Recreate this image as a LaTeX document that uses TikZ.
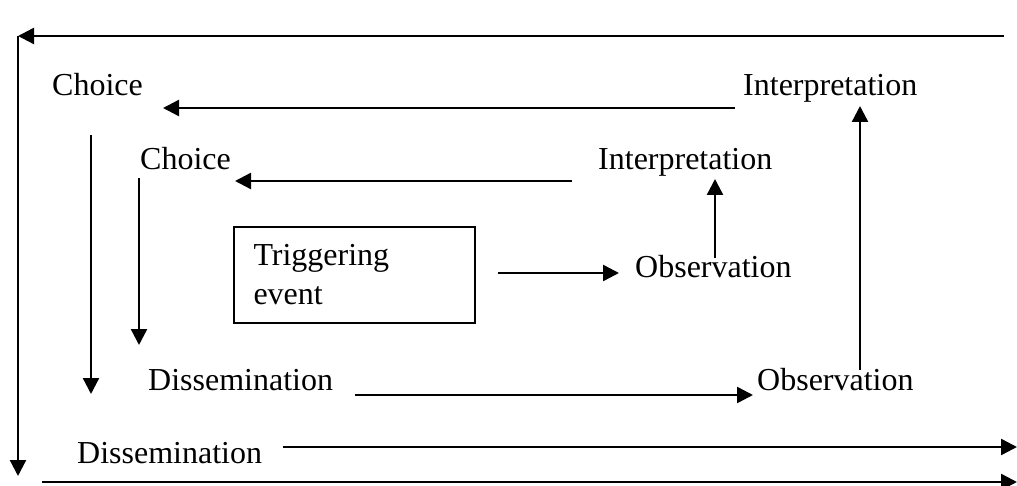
\documentclass[tikz,border=0pt]{standalone}
\usepackage{fontspec}
\setmainfont{Liberation Serif}
\usetikzlibrary{arrows.meta}
\begin{document}
\begin{tikzpicture}[x=1pt,y=-1pt,
  lbl/.style={anchor=base west,inner sep=0pt,font=\fontsize{32}{39}\selectfont},
  conn/.style={line width=2.4pt,-{Triangle[length=16pt,width=16pt]}},
  boxnode/.style={draw,line width=2pt,minimum width=241pt,minimum height=95pt,
    text width=202pt,align=left,inner xsep=19pt,font=\fontsize{32}{39}\selectfont}]
\useasboundingbox (0,0) rectangle (1017,486);
% text nodes
\node[lbl] (choiceO) at (52,96) {Choice};
\node[lbl] (interpO) at (743,96) {Interpretation};
\node[lbl] (choiceI) at (140,170) {Choice};
\node[lbl] (interpI) at (598,170) {Interpretation};
\node[lbl] (obsI) at (635,278) {Observation};
\node[lbl] (dissM) at (148,390) {Dissemination};
\node[lbl] (obsO) at (757,390) {Observation};
\node[lbl] (dissO) at (77,463) {Dissemination};
\node[boxnode] (trig) at (354.5,275) {Triggering\\event};
% connector end points
\coordinate (tr) at (1004,36);
\coordinate (tl) at (18,36);
\coordinate (lt) at (18,36);
\coordinate (lb) at (18,476);
\coordinate (bl) at (42,482);
\coordinate (br) at (1017,482);
\coordinate (dOs) at (283,447);
\coordinate (dOe) at (1017,447);
\coordinate (cOs) at (735,108);
\coordinate (cOe) at (163,108);
\coordinate (cOds) at (91,135);
\coordinate (cOde) at (91,394);
\coordinate (cIs) at (572,181);
\coordinate (cIe) at (235,181);
\coordinate (cIds) at (139,178);
\coordinate (cIde) at (139,345);
\coordinate (tOs) at (498,273);
\coordinate (tOe) at (619,273);
\coordinate (oIs) at (715,258);
\coordinate (oIe) at (715,179);
\coordinate (dMs) at (355,395);
\coordinate (dMe) at (753,395);
\coordinate (oOs) at (860,370);
\coordinate (oOe) at (860,106);
% connectors
\draw[conn] (tr) -- (tl);
\draw[conn] (lt) -- (lb);
\draw[conn] (bl) -- (br);
\draw[conn] (dOs) -- (dOe);
\draw[conn] (cOs) -- (cOe);
\draw[conn] (cOds) -- (cOde);
\draw[conn] (cIs) -- (cIe);
\draw[conn] (cIds) -- (cIde);
\draw[conn] (tOs) -- (tOe);
\draw[conn] (oIs) -- (oIe);
\draw[conn] (dMs) -- (dMe);
\draw[conn] (oOs) -- (oOe);
\end{tikzpicture}
\end{document}
